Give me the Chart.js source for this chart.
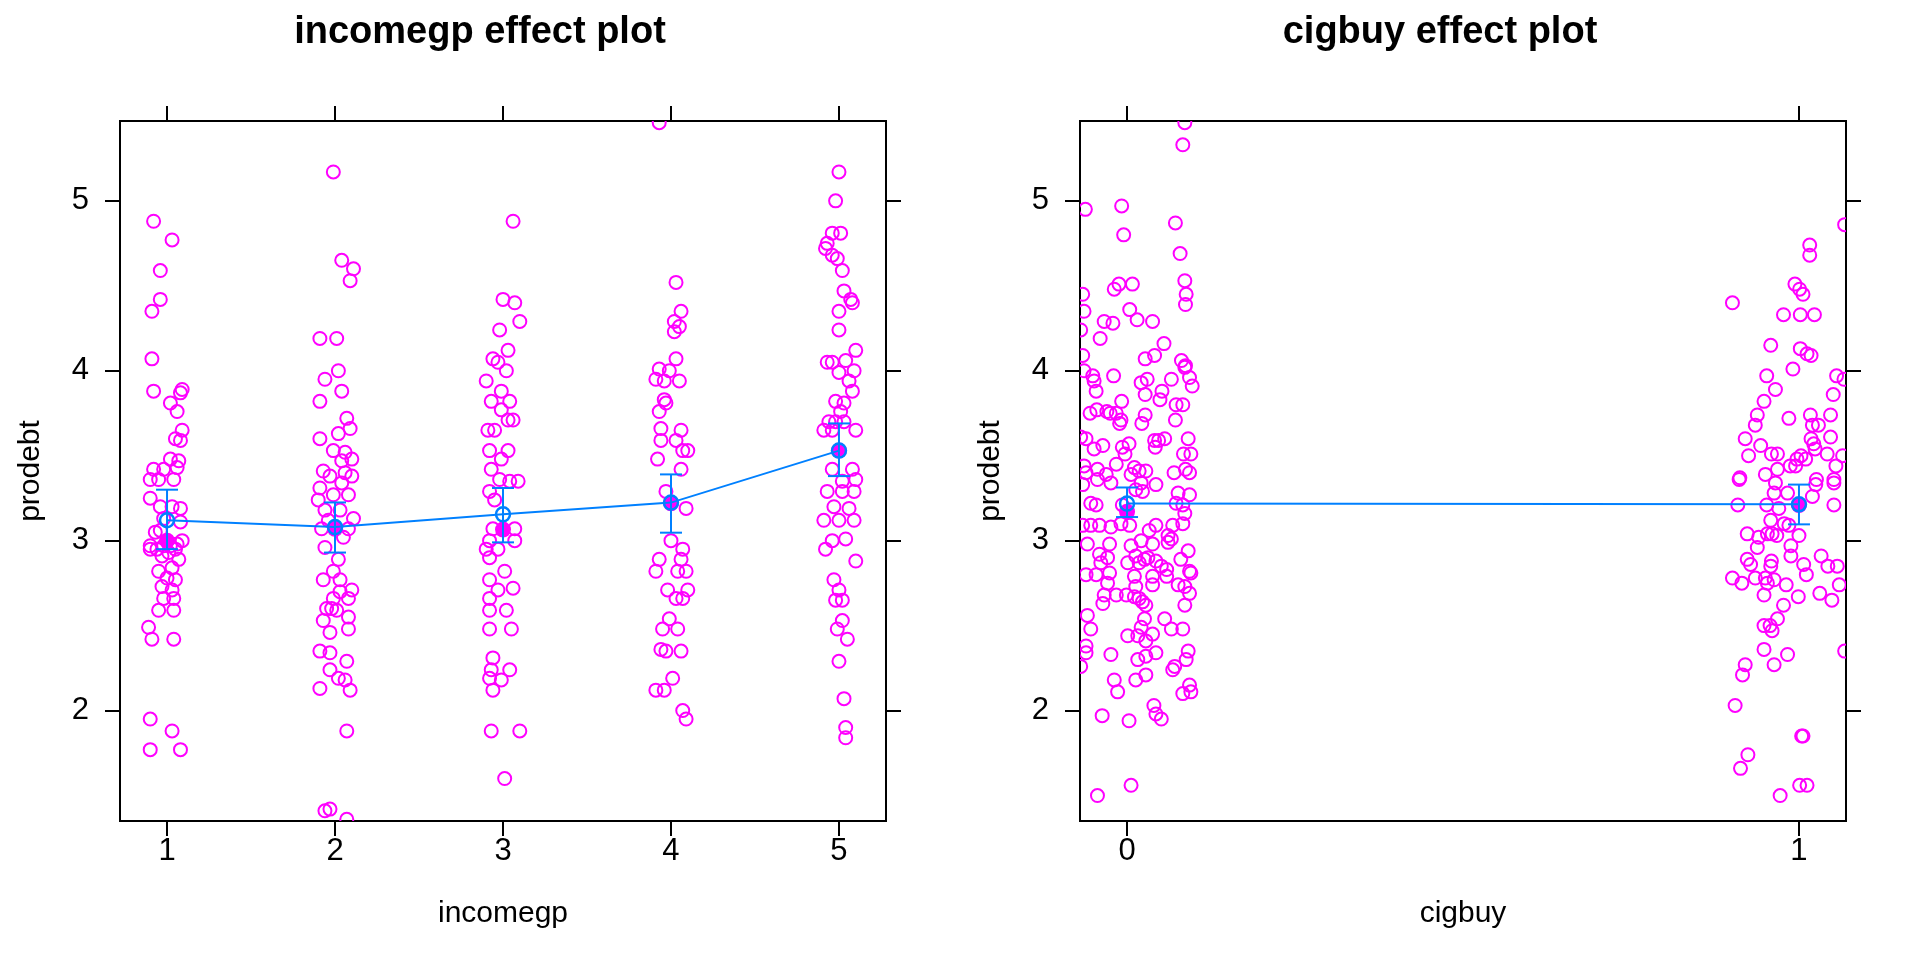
<!DOCTYPE html>
<html>
<head>
<meta charset="utf-8">
<title>effect plots</title>
<script src="https://cdn.jsdelivr.net/npm/chart.js@4/dist/chart.umd.min.js"></script>
<style>
  html, body { margin: 0; padding: 0; background: #fff; }
  .painel { position: absolute; top: 0; width: 960px; height: 960px; }
  #p1 { left: 0; }
  #p2 { left: 960px; }
</style>
</head>
<body>
<div class="painel" id="p1"><canvas id="graficoRenda" width="960" height="960"></canvas></div>
<div class="painel" id="p2"><canvas id="graficoCig" width="960" height="960"></canvas></div>
<script>
// ticks e escalas
const yTicks = [2, 3, 4, 5];
const yRange = [1.35, 5.47];
const incomeTicks = [1, 2, 3, 4, 5];
const incomeRange = [0.72, 5.28];
const cigTicks = [0, 1];
const cigRange = [-0.07, 1.07];

// efeito ajustado + intervalo
const incomeFit = [3.12, 3.08, 3.155, 3.224, 3.53];
const incomeLower = [2.95, 2.93, 2.99, 3.047, 3.38];
const incomeUpper = [3.30, 3.225, 3.31, 3.39, 3.69];
const incomeDense = [3.0, 3.07, 3.065, 3.22, 3.53];

const cigFit = [3.218, 3.214];
const cigLower = [3.139, 3.096];
const cigUpper = [3.313, 3.33];
const cigDense = [3.17, 3.21];

// residuos parciais: [jitter, prodebt]
const inc1Points = [[-0.08,4.88],[0.03,4.77],[-0.04,4.59],[-0.04,4.42],[-0.09,4.35],[-0.09,4.07],[-0.08,3.88],[0.02,3.81],[0.09,3.89],[0.08,3.87],[0.06,3.76],[0.09,3.65],[0.05,3.60],[0.08,3.59],[0.02,3.48],[0.07,3.47],[-0.08,3.42],[-0.02,3.42],[0.06,3.43],[-0.10,3.36],[-0.05,3.36],[0.04,3.36],[-0.10,3.25],[-0.04,3.20],[0.03,3.20],[0.08,3.19],[-0.02,3.13],[0.08,3.11],[-0.10,2.95],[-0.06,2.95],[0.05,2.95],[0.09,3.0],[-0.03,2.91],[0.07,2.89],[0.03,2.84],[-0.05,2.82],[0.0,2.78],[0.05,2.77],[-0.03,2.73],[0.03,2.71],[-0.02,2.66],[0.04,2.66],[-0.05,2.59],[0.04,2.59],[-0.11,2.49],[-0.09,2.42],[0.04,2.42],[-0.10,1.95],[0.03,1.88],[-0.10,1.77],[0.08,1.77],[-0.07,3.05],[-0.02,2.97],[0.02,2.97],[-0.04,3.06],[0.01,2.93],[0.06,2.98],[-0.10,2.97]];
const inc2Points = [[-0.01,5.17],[0.04,4.65],[0.11,4.60],[0.09,4.53],[-0.09,4.19],[0.01,4.19],[0.02,4.0],[-0.06,3.95],[0.04,3.88],[-0.09,3.82],[0.07,3.72],[0.09,3.66],[-0.09,3.60],[0.02,3.63],[-0.01,3.53],[0.06,3.52],[-0.07,3.41],[0.04,3.47],[0.10,3.48],[-0.03,3.38],[0.10,3.38],[-0.09,3.31],[0.04,3.34],[-0.10,3.24],[-0.01,3.27],[0.08,3.27],[-0.06,3.18],[0.03,3.18],[0.11,3.13],[-0.08,3.07],[0.08,3.07],[-0.06,2.96],[0.02,2.89],[-0.01,2.82],[-0.07,2.77],[0.03,2.77],[0.10,2.71],[-0.01,2.66],[0.08,2.66],[-0.05,2.60],[0.01,2.59],[-0.07,2.53],[0.08,2.55],[0.08,2.48],[-0.03,2.46],[-0.09,2.35],[-0.03,2.34],[0.07,2.29],[-0.03,2.24],[0.02,2.19],[0.06,2.18],[-0.09,2.13],[0.09,2.12],[0.07,1.88],[-0.06,1.41],[-0.03,1.42],[0.07,1.36],[-0.04,3.12],[0.05,3.02],[-0.02,2.60],[0.03,2.70],[0.06,3.40]];
const inc3Points = [[0.06,4.88],[0.0,4.42],[0.07,4.40],[0.10,4.29],[-0.02,4.24],[0.03,4.12],[-0.06,4.07],[-0.03,4.05],[0.02,4.0],[-0.10,3.94],[-0.01,3.88],[-0.07,3.82],[0.04,3.82],[-0.01,3.77],[0.03,3.71],[0.06,3.71],[-0.09,3.65],[-0.05,3.65],[-0.08,3.53],[0.03,3.53],[-0.01,3.48],[-0.07,3.42],[-0.02,3.36],[0.04,3.35],[0.09,3.35],[-0.08,3.29],[-0.05,3.24],[-0.06,3.07],[0.07,3.07],[-0.08,3.0],[0.07,3.0],[-0.10,2.95],[-0.03,2.95],[-0.08,2.90],[0.01,2.82],[-0.08,2.77],[-0.03,2.71],[0.06,2.72],[-0.08,2.66],[-0.08,2.59],[0.02,2.59],[-0.08,2.48],[0.05,2.48],[-0.06,2.31],[-0.07,2.24],[0.04,2.24],[-0.08,2.19],[-0.01,2.18],[-0.06,2.12],[-0.07,1.88],[0.10,1.88],[0.01,1.60]];
const inc4Points = [[-0.07,5.46],[0.03,4.52],[0.06,4.35],[0.02,4.29],[0.05,4.26],[0.02,4.23],[0.03,4.07],[-0.07,4.01],[-0.01,4.0],[-0.09,3.95],[-0.04,3.94],[0.05,3.94],[-0.04,3.83],[-0.03,3.81],[-0.07,3.76],[-0.06,3.66],[0.06,3.65],[-0.06,3.59],[0.03,3.59],[0.07,3.53],[0.10,3.53],[-0.08,3.48],[0.06,3.42],[-0.03,3.29],[0.09,3.19],[0.0,3.0],[0.07,2.95],[-0.07,2.89],[0.06,2.89],[-0.09,2.82],[0.04,2.82],[0.09,2.82],[-0.02,2.71],[0.10,2.71],[0.03,2.66],[0.07,2.66],[-0.01,2.54],[-0.05,2.48],[0.04,2.48],[-0.06,2.36],[-0.03,2.35],[0.06,2.35],[0.01,2.19],[-0.09,2.12],[-0.04,2.12],[0.07,2.0],[0.09,1.95]];
const inc5Points = [[0.0,5.17],[-0.02,5.0],[0.01,4.81],[-0.04,4.81],[-0.07,4.75],[-0.08,4.72],[-0.04,4.68],[-0.01,4.66],[0.02,4.59],[0.03,4.47],[0.07,4.42],[0.08,4.40],[0.0,4.35],[0.0,4.24],[0.10,4.12],[-0.07,4.05],[-0.04,4.05],[0.04,4.06],[0.09,4.0],[0.0,3.99],[0.06,3.94],[0.08,3.88],[-0.02,3.82],[0.03,3.81],[0.01,3.76],[-0.06,3.70],[-0.02,3.70],[0.03,3.70],[-0.09,3.65],[-0.04,3.65],[0.10,3.65],[-0.04,3.42],[0.08,3.42],[0.02,3.35],[0.10,3.36],[-0.07,3.29],[0.02,3.29],[0.09,3.29],[-0.03,3.20],[0.06,3.19],[-0.09,3.12],[0.0,3.12],[0.09,3.12],[-0.04,3.0],[0.04,3.01],[-0.08,2.95],[0.10,2.88],[-0.03,2.77],[0.0,2.71],[-0.02,2.65],[0.02,2.65],[0.02,2.53],[-0.01,2.48],[0.05,2.42],[0.0,2.29],[0.03,2.07],[0.04,1.90],[0.04,1.84]];

const cig0Points = [[0.086,5.46],[0.083,5.33],[-0.062,4.95],[-0.008,4.97],[0.072,4.87],[-0.005,4.80],[0.079,4.69],[0.086,4.53],[-0.066,4.45],[0.088,4.45],[0.087,4.39],[-0.019,4.48],[-0.012,4.51],[0.008,4.51],[-0.064,4.35],[0.004,4.36],[-0.034,4.29],[-0.021,4.28],[0.015,4.30],[0.038,4.29],[-0.069,4.24],[-0.040,4.19],[0.055,4.16],[0.041,4.09],[0.027,4.07],[0.081,4.06],[0.087,4.03],[0.093,3.96],[0.097,3.91],[0.086,4.02],[-0.066,4.09],[-0.064,4.00],[-0.051,3.97],[-0.049,3.94],[-0.046,3.88],[-0.020,3.97],[0.021,3.93],[0.030,3.95],[0.052,3.88],[0.066,3.95],[0.027,3.86],[0.049,3.83],[-0.008,3.82],[0.073,3.80],[0.083,3.80],[-0.055,3.75],[-0.045,3.77],[-0.030,3.76],[-0.025,3.75],[-0.016,3.75],[-0.009,3.71],[-0.011,3.69],[0.027,3.74],[0.022,3.69],[0.072,3.71],[-0.061,3.60],[-0.069,3.61],[-0.036,3.56],[-0.049,3.54],[-0.007,3.55],[0.003,3.57],[-0.003,3.51],[0.041,3.59],[0.047,3.59],[0.056,3.60],[0.042,3.55],[0.091,3.60],[0.084,3.51],[0.095,3.51],[-0.016,3.45],[-0.064,3.44],[-0.044,3.42],[-0.061,3.40],[-0.031,3.39],[0.011,3.43],[0.018,3.41],[0.028,3.41],[0.006,3.39],[0.070,3.40],[0.087,3.42],[0.093,3.40],
  [-0.044,3.36],[-0.024,3.34],[0.021,3.34],[0.043,3.33],[0.013,3.30],[0.023,3.29],[0.076,3.28],[0.093,3.27],[-0.066,3.33],[-0.054,3.22],[-0.046,3.21],[-0.007,3.21],[0.073,3.22],[0.083,3.21],[0.086,3.16],[-0.066,3.09],[-0.054,3.09],[-0.041,3.09],[-0.024,3.08],[-0.009,3.10],[0.004,3.09],[0.043,3.09],[0.068,3.09],[0.083,3.10],[0.033,3.06],[0.061,3.03],[0.066,3.01],[0.061,2.99],[-0.059,2.98],[-0.026,2.98],[0.006,2.97],[0.021,3.00],[0.038,2.98],[0.091,2.94],[-0.041,2.92],[-0.029,2.90],[0.013,2.91],[0.026,2.89],[0.031,2.90],[0.043,2.88],[0.080,2.89],[-0.039,2.87],[0.001,2.87],[0.018,2.87],[0.051,2.85],[0.059,2.83],[0.093,2.82],[0.095,2.81],[-0.061,2.80],[-0.046,2.80],[-0.026,2.81],[0.011,2.79],[0.038,2.79],[0.059,2.79],[-0.029,2.75],[0.013,2.73],[0.038,2.74],[0.076,2.74],[0.086,2.73],[-0.034,2.68],[-0.016,2.68],[-0.001,2.68],[0.011,2.67],[0.018,2.66],[0.093,2.69],[-0.036,2.63],[0.023,2.64],[0.028,2.62],[0.086,2.62],[-0.059,2.56],[0.026,2.54],[0.056,2.54],[-0.054,2.48],[0.021,2.49],[0.066,2.48],[0.083,2.48],[0.001,2.44],[0.016,2.44],[0.038,2.45],[0.028,2.41],[-0.061,2.38],[-0.061,2.34],[0.091,2.35],[-0.024,2.33],[0.043,2.34],[0.028,2.32],[0.016,2.30],[0.088,2.30],[-0.069,2.26],[0.071,2.26],[0.068,2.24],[0.028,2.21],[0.013,2.18],[-0.019,2.18],[-0.014,2.11],[0.093,2.15],[0.095,2.11],[0.083,2.10],[0.040,2.03],[0.043,1.98],[0.051,1.95],[-0.037,1.97],[0.003,1.94],[0.006,1.56],[-0.044,1.50]];
const cig1Points = [[0.068,4.86],[0.016,4.74],[0.016,4.68],[-0.006,4.51],[0.001,4.48],[0.006,4.45],[-0.099,4.40],[-0.023,4.33],[0.002,4.33],[0.023,4.33],[-0.042,4.15],[0.002,4.13],[0.012,4.10],[0.018,4.09],[-0.009,4.01],[-0.048,3.97],[0.056,3.97],[0.067,3.95],[-0.035,3.89],[0.051,3.86],[-0.052,3.82],[-0.062,3.74],[-0.065,3.68],[-0.015,3.72],[0.017,3.74],[0.047,3.74],[0.020,3.68],[0.029,3.68],[0.047,3.61],[-0.080,3.60],[0.018,3.60],[-0.057,3.56],[0.022,3.57],[0.024,3.54],[-0.075,3.50],[-0.041,3.51],[-0.032,3.51],[0.042,3.51],[0.065,3.50],[-0.003,3.48],[0.010,3.48],[0.003,3.50],[-0.013,3.44],[-0.005,3.44],[0.055,3.44],[-0.032,3.42],[-0.050,3.39],[-0.088,3.37],[0.026,3.36],[0.052,3.36],
  [-0.089,3.36],[0.052,3.34],[0.025,3.33],[-0.035,3.34],[-0.037,3.28],[-0.017,3.28],[0.020,3.26],[-0.091,3.21],[-0.048,3.21],[0.052,3.21],[-0.030,3.19],[-0.042,3.12],[-0.022,3.10],[-0.015,3.09],[-0.077,3.04],[-0.060,3.02],[-0.047,3.04],[-0.040,3.04],[-0.033,3.03],[0.0,3.03],[-0.062,2.96],[-0.012,2.97],[-0.012,2.91],[0.033,2.91],[-0.077,2.89],[-0.072,2.86],[-0.041,2.88],[-0.042,2.85],[0.007,2.86],[0.043,2.85],[0.057,2.85],[0.011,2.80],[-0.099,2.78],[-0.085,2.75],[-0.065,2.78],[-0.050,2.78],[-0.037,2.77],[-0.047,2.75],[-0.019,2.74],[0.060,2.74],[-0.052,2.68],[-0.001,2.67],[0.031,2.69],[0.049,2.65],[-0.023,2.62],[-0.032,2.54],[-0.052,2.50],[-0.043,2.50],[-0.040,2.47],[-0.052,2.36],[-0.017,2.33],[-0.037,2.27],[-0.080,2.27],[-0.084,2.21],[0.068,2.35],[-0.095,2.03],[0.004,1.85],[0.006,1.85],[-0.076,1.74],[-0.087,1.66],[0.001,1.56],[0.012,1.56],[-0.028,1.50]];

const AZUL = "#0080ff";
const MAGENTA = "#ff00ff";
const FONTE = "'Liberation Sans', Arial, sans-serif";

Chart.defaults.font.family = FONTE;
Chart.defaults.color = "#000";

function eixo(pos, range, ticks, titulo, tamanho) {
    const horizontal = (pos === "bottom" || pos === "top");
    const principal = (pos === "bottom" || pos === "left");
    return {
        type: "linear",
        position: pos,
        min: range[0],
        max: range[1],
        z: 1,
        afterBuildTicks: function (a) { a.ticks = ticks.map(v => ({ value: v })); },
        afterFit: function (a) { if (horizontal) { a.height = tamanho; } else { a.width = tamanho; } },
        grid: { drawOnChartArea: false, tickLength: 15, color: "#000", lineWidth: 2 },
        border: { display: true, color: "#000", width: 2 },
        ticks: {
            display: principal,
            color: "#000",
            font: { size: 31 },
            padding: horizontal ? -3 : 16,
            maxRotation: 0,
            autoSkip: false,
            callback: v => String(v)
        },
        title: {
            display: principal,
            text: titulo,
            color: "#000",
            font: { size: 30 },
            padding: horizontal ? { top: 0, bottom: 28 } : { top: 13, bottom: 0 }
        }
    };
}

function desenha(id, titulo, nomeX, niveis, xRange, xTicks, fit, lower, upper, dense, grupos) {
    const ctx = document.getElementById(id);
    if (!ctx) return;

    const datasets = [];

    // linha do efeito
    datasets.push({
        data: niveis.map((x, i) => ({ x: x, y: fit[i] })),
        showLine: true,
        borderColor: AZUL,
        borderWidth: 2,
        pointStyle: "circle",
        pointRadius: 7,
        pointBorderWidth: 2.5,
        pointBorderColor: AZUL,
        pointBackgroundColor: "rgba(0,0,0,0)"
    });

    // barras de erro (capas com pointStyle line)
    niveis.forEach((x, i) => {
        datasets.push({
            data: [{ x: x, y: lower[i] }, { x: x, y: upper[i] }],
            showLine: true,
            borderColor: AZUL,
            borderWidth: 2,
            pointStyle: "line",
            pointRadius: 11,
            pointBorderWidth: 2,
            pointBorderColor: AZUL
        });
    });

    // aglomerados densos
    datasets.push({
        data: niveis.map((x, i) => ({ x: x, y: dense[i] })),
        pointRadius: 8,
        pointBorderWidth: 0,
        pointBackgroundColor: MAGENTA,
        clip: 0
    });

    // residuos
    grupos.forEach((pts, g) => {
        datasets.push({
            data: pts.map(p => ({ x: niveis[g] + p[0], y: p[1] })),
            pointStyle: "circle",
            pointRadius: 6.5,
            pointBorderWidth: 2,
            pointBorderColor: MAGENTA,
            pointBackgroundColor: "rgba(0,0,0,0)",
            clip: 0
        });
    });

    new Chart(ctx, {
        type: "scatter",
        data: { datasets: datasets },
        options: {
            responsive: false,
            animation: false,
            events: [],
            layout: { padding: 0 },
            plugins: {
                legend: { display: false },
                tooltip: { enabled: false },
                title: {
                    display: true,
                    text: titulo,
                    color: "#000",
                    font: { size: 38, weight: "bold" },
                    padding: { top: 10, bottom: 0 }
                }
            },
            scales: {
                x: eixo("bottom", xRange, xTicks, nomeX, 139),
                x2: eixo("top", xRange, xTicks, "", 65.4),
                y: eixo("left", yRange, yTicks, "prodebt", 120),
                y2: eixo("right", yRange, yTicks, "", 74)
            }
        }
    });
}

document.addEventListener("DOMContentLoaded", function () {
    desenha("graficoRenda", "incomegp effect plot", "incomegp", incomeTicks, incomeRange, incomeTicks,
        incomeFit, incomeLower, incomeUpper, incomeDense,
        [inc1Points, inc2Points, inc3Points, inc4Points, inc5Points]);

    desenha("graficoCig", "cigbuy effect plot", "cigbuy", cigTicks, cigRange, cigTicks,
        cigFit, cigLower, cigUpper, cigDense,
        [cig0Points, cig1Points]);
});
</script>
</body>
</html>
